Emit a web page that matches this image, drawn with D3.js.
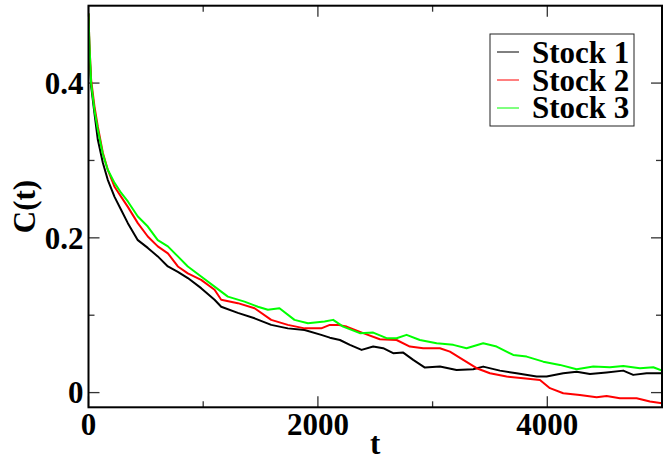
<!DOCTYPE html>
<html><head><meta charset="utf-8">
<script src="https://cdn.jsdelivr.net/npm/d3@7/dist/d3.min.js"></script>
<style>html,body{margin:0;padding:0;background:#fff;}svg{display:block;}
text{font-family:"Liberation Serif","Times New Roman",Times,serif;font-weight:bold;}</style>
</head><body>
<svg id="chart" width="672" height="461"></svg>
<script>
const seriesNames = ["Stock 1", "Stock 2", "Stock 3"];
const seriesColors = ["#000000", "#ff0000", "#00ff00"];
const xTicks = [0, 2000, 4000];
const xMinorTicks = [1000, 3000];
const yTicks = [0, 0.2, 0.4];
const yTickLabels = ["0", "0.2", "0.4"];
const yMinorTicks = [0.1, 0.3];

const stock1 = [[0,0.49],[8,0.44],[23,0.396],[52,0.361],[81,0.327],[125,0.297],[168,0.275],[227,0.253],[285,0.236],[343,0.219],[430,0.197],[517,0.187],[604,0.176],[692,0.163],[779,0.156],[866,0.148],[982,0.135],[1099,0.120],[1157,0.111],[1302,0.103],[1448,0.096],[1593,0.0875],[1738,0.083],[1884,0.081],[2029,0.0746],[2104,0.071],[2192,0.068],[2279,0.0617],[2381,0.0552],[2482,0.0595],[2569,0.0574],[2656,0.051],[2744,0.0517],[2831,0.0423],[2933,0.0323],[3064,0.0336],[3209,0.0293],[3354,0.0302],[3441,0.0336],[3587,0.0284],[3732,0.025],[3907,0.0207],[3994,0.0207],[4139,0.025],[4256,0.027],[4372,0.024],[4517,0.026],[4662,0.0284],[4749,0.0229],[4866,0.025],[5000,0.025]];
const stock2 = [[0,0.49],[8,0.45],[23,0.404],[52,0.37],[81,0.344],[125,0.31],[168,0.288],[227,0.266],[285,0.253],[343,0.24],[430,0.219],[517,0.2017],[604,0.189],[692,0.18],[779,0.163],[866,0.154],[982,0.1457],[1099,0.133],[1157,0.12],[1302,0.1156],[1448,0.109],[1593,0.094],[1738,0.0875],[1884,0.083],[2029,0.083],[2104,0.0875],[2174,0.0875],[2250,0.0853],[2395,0.0768],[2540,0.069],[2686,0.068],[2802,0.0595],[2918,0.0574],[3064,0.0574],[3151,0.053],[3267,0.0423],[3384,0.0315],[3500,0.025],[3645,0.0207],[3790,0.0186],[3936,0.0164],[4023,0.0057],[4139,-0.0008],[4284,-0.003],[4430,-0.006],[4517,-0.0043],[4633,-0.0073],[4779,-0.0073],[4895,-0.0116],[5000,-0.0137]];
const stock3 = [[0,0.49],[8,0.45],[23,0.40],[52,0.365],[81,0.34],[125,0.308],[168,0.288],[227,0.271],[285,0.258],[343,0.247],[430,0.2275],[517,0.2146],[604,0.197],[692,0.189],[779,0.176],[866,0.163],[982,0.15],[1099,0.137],[1215,0.124],[1360,0.1176],[1477,0.111],[1564,0.107],[1665,0.109],[1796,0.094],[1913,0.0897],[2058,0.0918],[2133,0.094],[2220,0.0853],[2366,0.0768],[2482,0.0776],[2599,0.0703],[2686,0.0703],[2773,0.0746],[2889,0.068],[3035,0.0638],[3180,0.0617],[3296,0.0574],[3441,0.0638],[3558,0.0595],[3703,0.0487],[3820,0.0465],[3965,0.040],[4110,0.0358],[4256,0.0302],[4401,0.0336],[4546,0.0328],[4662,0.0345],[4808,0.0315],[4924,0.0328],[5000,0.0284]];
const allSeries = [stock1, stock2, stock3];

const svg = d3.select("#chart");
const pL = 88.5, pR = 662, pT = 5.7, pB = 407.3;
const x = d3.scaleLinear().domain([0, 5000]).range([pL, pR]);
const y = d3.scaleLinear().domain([-0.019, 0.5]).range([pB, pT]);

svg.append("defs").append("clipPath").attr("id","clip")
  .append("rect").attr("x",pL).attr("y",pT).attr("width",pR-pL).attr("height",pB-pT);

// ticks (inward, all four sides)
const tk = svg.append("g").attr("stroke","#333").attr("stroke-width",1.3);
function xt(v, len){
  tk.append("line").attr("x1",x(v)).attr("x2",x(v)).attr("y1",pB).attr("y2",pB-len);
  tk.append("line").attr("x1",x(v)).attr("x2",x(v)).attr("y1",pT).attr("y2",pT+len);
}
function yt(v, len){
  tk.append("line").attr("y1",y(v)).attr("y2",y(v)).attr("x1",pL).attr("x2",pL+len);
  tk.append("line").attr("y1",y(v)).attr("y2",y(v)).attr("x1",pR).attr("x2",pR-len);
}
xTicks.forEach(v=>xt(v,11)); xMinorTicks.forEach(v=>xt(v,6));
yTicks.forEach(v=>yt(v,11)); yMinorTicks.forEach(v=>yt(v,6));

// lines
const line = d3.line().x(d=>x(d[0])).y(d=>y(d[1]));
const lg = svg.append("g").attr("clip-path","url(#clip)");
allSeries.forEach((s,i)=>{
  lg.append("path").datum(s).attr("d",line).attr("fill","none")
    .attr("stroke",seriesColors[i]).attr("stroke-width",2).attr("stroke-linejoin","round");
});

// frame
svg.append("rect").attr("x",pL).attr("y",pT).attr("width",pR-pL).attr("height",pB-pT)
  .attr("fill","none").attr("stroke","#000").attr("stroke-width",2);

// tick labels
const tl = svg.append("g").attr("font-size",31).attr("fill","#000");
xTicks.forEach(v=>{
  tl.append("text").attr("x",x(v)).attr("y",435).attr("text-anchor","middle").text(v);
});
yTicks.forEach((v,i)=>{
  tl.append("text").attr("x",pL-5).attr("y",y(v)).attr("dy","0.35em").attr("text-anchor","end").text(yTickLabels[i]);
});

// axis titles
svg.append("text").attr("x",(pL+pR)/2).attr("y",454).attr("text-anchor","middle")
  .attr("font-size",31).text("t");
svg.append("text").attr("transform",`translate(35,${(pT+pB)/2}) rotate(-90)`).attr("text-anchor","middle")
  .attr("font-size",31).text("C(t)");

// legend
const lgd = svg.append("g");
lgd.append("rect").attr("x",490).attr("y",34).attr("width",144).attr("height",92)
  .attr("fill","#fff").attr("stroke","#222").attr("stroke-width",1);
seriesNames.forEach((n,i)=>{
  const yy = 52 + i*28;
  lgd.append("line").attr("x1",497).attr("x2",519).attr("y1",yy).attr("y2",yy)
    .attr("stroke",seriesColors[i]).attr("stroke-width",1);
  lgd.append("text").attr("x",532).attr("y",63+i*27.5).attr("font-size",31).text(n);
});
</script>
</body></html>
